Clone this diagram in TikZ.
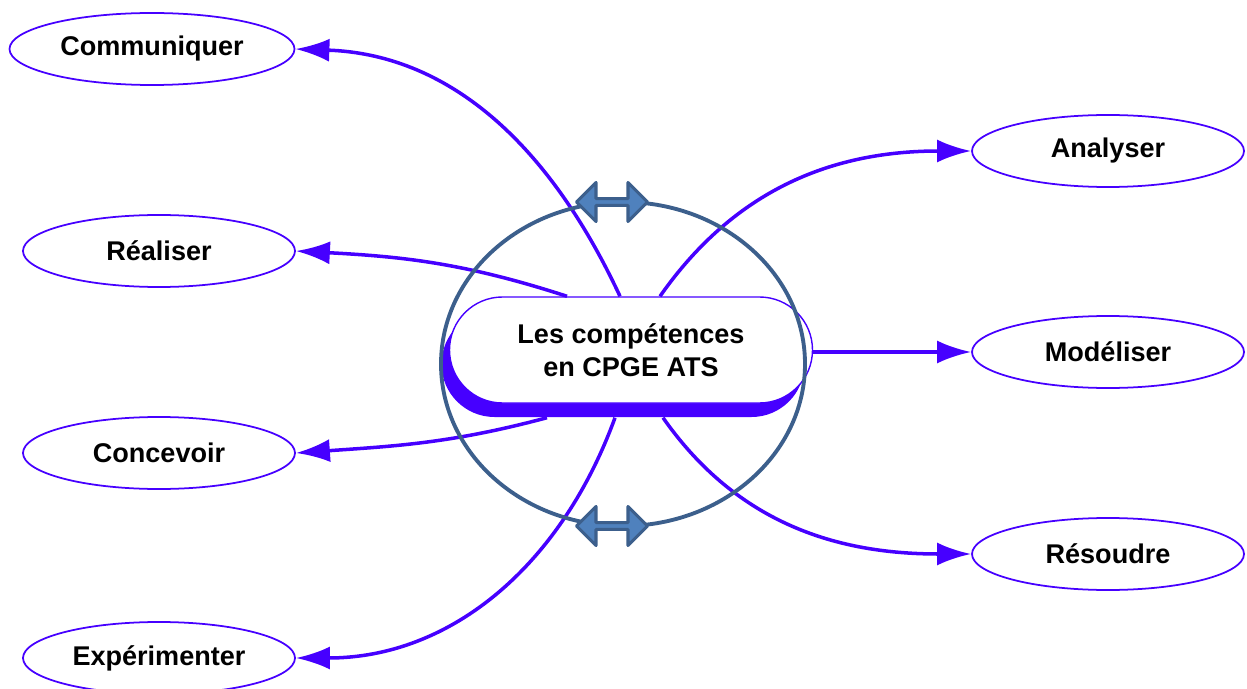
\documentclass[tikz,border=0pt]{standalone}
\usepackage{fontspec}
\setmainfont{Liberation Sans}
\usepackage{xcolor}
\usetikzlibrary{shapes.geometric,shapes.arrows,shadows,arrows.meta}
\definecolor{mmblue}{RGB}{70,0,255}
\definecolor{ringblue}{RGB}{60,95,140}
\definecolor{arrfill}{RGB}{79,129,189}

\begin{document}
\begin{tikzpicture}[
	every node/.style={font=\fontsize{15.4}{18.8}\selectfont\bfseries},
	skill/.style={ellipse,draw=mmblue,line width=1pt,fill=white,
		minimum width=5.44cm,minimum height=1.44cm,inner sep=0pt},
	link/.style={-{Latex[length=0.68cm,width=0.46cm]},line width=2pt,mmblue},
	swap/.style={double arrow,draw=ringblue,fill=arrfill,line width=1.8pt,
		line join=round,minimum height=1.42cm,minimum width=0.78cm,
		double arrow head extend=0.15cm,inner sep=0pt}
	]
	\useasboundingbox (0,0) rectangle (24.94,13.76);
	
	% the skills, left and right
	\node[skill,minimum width=5.7cm] (Com) at (3.04,12.78) {Communiquer};
	\node[skill] (Rea) at (3.18,8.74) {Réaliser};
	\node[skill] (Con) at (3.18,4.70) {Concevoir};
	\node[skill] (Exp) at (3.18,0.60) {Expérimenter};
	
	\node[skill] (Ana) at (22.16,10.74) {Analyser};
	\node[skill] (Mod) at (22.16,6.72) {Modéliser};
	\node[skill] (Res) at (22.16,2.68) {Résoudre};
	
	% the centre
	\node[rectangle,rounded corners=1.06cm,draw=mmblue,line width=0.8pt,fill=white,
		minimum width=7.26cm,minimum height=2.12cm,align=center,
		drop shadow={shadow xshift=-0.16cm,shadow yshift=-0.28cm,
			fill=mmblue,opacity=1}]
		(C) at (12.62,6.76) {Les compétences\\en CPGE ATS};
	
	\draw[link] ([xshift=-0.22cm]C.north) to[out=115,in=-2] (Com.east);
	\draw[link] ([xshift=-1.28cm]C.north) to[out=162,in=-3] (Rea.east);
	\draw[link] ([xshift=-1.68cm,yshift=-0.28cm]C.south) to[out=195,in=4] (Con.east);
	\draw[link] ([xshift=-0.32cm,yshift=-0.28cm]C.south) to[out=-110,in=0] (Exp.east);
	
	\draw[link] ([xshift=0.58cm]C.north) to[out=55,in=180] (Ana.west);
	\draw[link] ([yshift=-0.04cm]C.east) -- (Mod.west);
	\draw[link] ([xshift=0.64cm,yshift=-0.28cm]C.south) to[out=-55,in=180] (Res.west);
	
	\draw[ringblue,line width=2.2pt] (12.46,6.48) ellipse (3.64cm and 3.24cm);
	
	\node[swap] (S1) at (12.24,9.72) {};
	\node[swap] (S2) at (12.24,3.24) {};
	
\end{tikzpicture}
\end{document}
